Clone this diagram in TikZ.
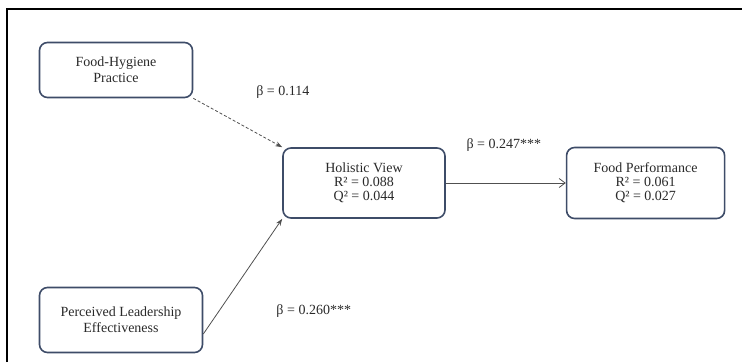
\documentclass[tikz,border=0pt]{standalone}
\usepackage{fontspec}
\setmainfont{Liberation Serif}
\usepackage{xcolor}
\usetikzlibrary{positioning, arrows.meta}
\definecolor{boxline}{HTML}{3E4C68}
\definecolor{pathline}{HTML}{505050}
\definecolor{labeltext}{HTML}{2A2A2A}
\tikzset{
  construct/.style={
    draw=boxline,
    line width=1.6pt,
    rounded corners=8pt,
    fill=white,
    text=labeltext,
    align=center,
    font=\fontsize{14}{16}\selectfont,
    inner sep=2pt
  },
  path arrow/.style={
    -{Stealth[length=7pt, width=5pt]},
    line width=0.8pt,
    color=pathline
  },
  open arrow/.style={
    -{Straight Barb[length=6pt, width=9pt]},
    line width=0.8pt,
    color=pathline
  },
  beta/.style={
    font=\fontsize{14}{16}\selectfont,
    text=labeltext,
    inner sep=0pt
  }
}

\begin{document}
\begin{tikzpicture}[x=1pt, y=-1pt, node distance=120pt]
  \useasboundingbox (0,0) rectangle (742,362);
  \draw[line width=2pt] (7,362) -- (7,9) -- (742,9);

  \node[construct, minimum width=162pt, minimum height=70pt,
        font=\fontsize{14}{14}\selectfont] (hv) at (364,183)
    {Holistic View \\ R² = 0.088 \\ Q² = 0.044};
  \node[construct, minimum width=158pt, minimum height=71pt,
        font=\fontsize{14}{14}\selectfont, right=of hv] (fp)
    {Food Performance \\ R² = 0.061 \\ Q² = 0.027};
  \node[construct, minimum width=153pt, minimum height=55pt] (fhp) at (116,70)
    {Food-Hygiene \\ Practice};
  \node[construct, minimum width=163pt, minimum height=65pt] (ple) at (121,320)
    {Perceived Leadership \\ Effectiveness};

  \draw[path arrow, dashed, dash pattern=on 3pt off 2pt] (fhp.south east) --
    node[beta, shift={(45,-31)}] {β = 0.114} (hv.north west);
  \draw[path arrow] ([yshift=-14pt]ple.east) --
    node[beta, shift={(71,35)}] {β = 0.260***} (hv.south west);
  \draw[open arrow] (hv) --
    node[beta, shift={(-2,-38)}] {β = 0.247***} (fp);
\end{tikzpicture}
\end{document}
